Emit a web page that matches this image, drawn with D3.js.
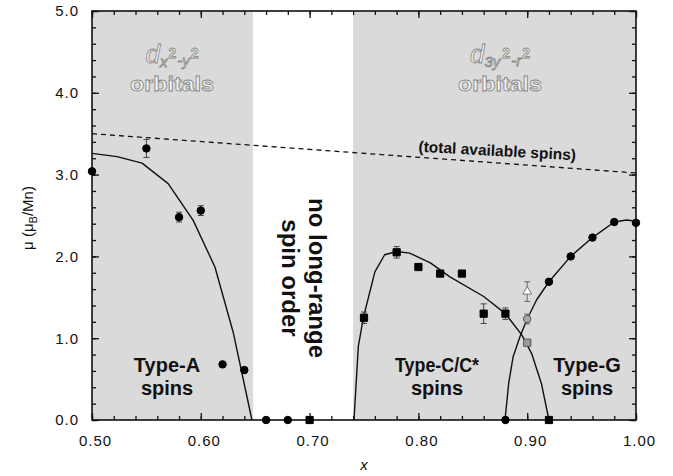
<!DOCTYPE html>
<html><head><meta charset="utf-8">
<script src="https://cdn.jsdelivr.net/npm/d3@7"></script>
<style>
html,body{margin:0;padding:0;background:#fff;}
svg{display:block;font-family:"Liberation Sans",Arial,Helvetica,sans-serif;}
</style></head><body>
<svg id="chart" width="673" height="476"></svg>
<script>
// ---- axes ----
const xTicks = [0.50, 0.60, 0.70, 0.80, 0.90, 1.00];
const yTicks = [0, 1, 2, 3, 4, 5];

// ---- composition ranges with long-range orbital/spin order ----
const orderedRanges = [[0.50, 0.648], [0.740, 1.00]];

// ---- total available spins (dashed) ----
const totalSpinX = [0.50, 1.00];
const totalSpinY = [3.50, 3.02];

// ---- Type-A antiferromagnet ----
const typeACurveX = [0.500, 0.523, 0.546, 0.570, 0.593, 0.613, 0.630, 0.647];
const typeACurveY = [3.26, 3.22, 3.14, 2.89, 2.44, 1.87, 1.06, 0.00];
const typeAX   = [0.50, 0.55, 0.58, 0.60, 0.62, 0.64, 0.66, 0.68];
const typeAY   = [3.04, 3.32, 2.48, 2.56, 0.68, 0.61, 0.00, 0.00];
const typeAErr = [0, 0.11, 0.06, 0.06, 0, 0, 0, 0];

// ---- Type-C/C* antiferromagnet ----
const typeCCurveX = [0.7408, 0.7448, 0.7494, 0.760, 0.769, 0.780, 0.792, 0.811, 0.829, 0.860, 0.880, 0.895, 0.904, 0.913, 0.920];
const typeCCurveY = [0.00, 0.90, 1.25, 1.81, 2.02, 2.06, 2.04, 1.92, 1.75, 1.51, 1.30, 1.04, 0.815, 0.45, 0.00];
const typeCX   = [0.70, 0.75, 0.78, 0.80, 0.82, 0.84, 0.86, 0.88, 0.92];
const typeCY   = [0.00, 1.25, 2.05, 1.87, 1.79, 1.79, 1.30, 1.30, 0.00];
const typeCErr = [0, 0.07, 0.07, 0, 0, 0, 0.12, 0.07, 0];

// ---- Type-G antiferromagnet ----
const typeGCurveX = [0.8796, 0.883, 0.887, 0.8934, 0.900, 0.9087, 0.920, 0.940, 0.960, 0.980, 0.9914, 1.000];
const typeGCurveY = [0.00, 0.45, 0.77, 1.02, 1.235, 1.47, 1.69, 2.00, 2.23, 2.42, 2.445, 2.43];
const typeGX = [0.88, 0.92, 0.94, 0.96, 0.98, 1.00];
const typeGY = [0.00, 1.69, 2.00, 2.23, 2.42, 2.41];

// ---- x = 0.90 sample (grey / open symbols) ----
const mixedX = [0.90, 0.90, 0.90];
const mixedY = [0.945, 1.235, 1.57];
const mixedErr = [0, 0.06, 0.12];

const svg = d3.select("#chart");
const plotL = 92, plotR = 636, plotT = 11, plotB = 420;
const x = d3.scaleLinear().domain([0.5, 1.0]).range([plotL, plotR]);
const y = d3.scaleLinear().domain([0, 5]).range([plotB, plotT]);

// shaded backgrounds
svg.append("g").selectAll("rect").data(orderedRanges).join("rect")
  .attr("x", d => x(d[0])).attr("width", d => x(d[1]) - x(d[0]))
  .attr("y", plotT).attr("height", plotB - plotT)
  .attr("fill", "#dadada");

// hollow orbital labels
const hollow = g => g.attr("fill", "#f2f2f2").attr("stroke", "#858585").attr("stroke-width", 0.8)
  .attr("font-weight", "bold");

function orbitalLabel(cx, parts) {
  const g = svg.append("g");
  const t = g.append("text").attr("x", cx).attr("y", 63).attr("text-anchor", "middle").call(hollow);
  parts.forEach(p => {
    t.append("tspan").text(p.t).attr("font-size", p.s).attr("font-style", p.i ? "italic" : "normal")
      .attr("font-weight", p.i ? "normal" : "bold")
      .attr("dy", p.dy || 0).attr("dx", p.dx || 0);
  });
  g.append("text").attr("x", cx).attr("y", 91).attr("text-anchor", "middle")
    .attr("font-size", 20).attr("textLength", 84).attr("lengthAdjust", "spacingAndGlyphs")
    .call(hollow).text("orbitals");
}
orbitalLabel(172, [
  {t: "d", s: 26, i: true},
  {t: "x", s: 15, i: true, dy: 4},
  {t: "2", s: 14, dy: -9, dx: 1},
  {t: "-y", s: 15, i: true, dy: 8, dx: 1},
  {t: "2", s: 14, dy: -8, dx: 1}
]);
orbitalLabel(500, [
  {t: "d", s: 26, i: true},
  {t: "3y", s: 15, i: true, dy: 4},
  {t: "2", s: 14, dy: -9, dx: 2},
  {t: "-r", s: 15, i: true, dy: 8, dx: 1},
  {t: "2", s: 14, dy: -8, dx: 1}
]);

// total available spins
const totalLine = d3.line().x(d => x(d[0])).y(d => y(d[1]));
svg.append("path").datum(d3.zip(totalSpinX, totalSpinY))
  .attr("d", totalLine).attr("fill", "none").attr("stroke", "#111")
  .attr("stroke-width", 1.3).attr("stroke-dasharray", "5,4");
const ang = Math.atan2(y(totalSpinY[1]) - y(totalSpinY[0]), x(totalSpinX[1]) - x(totalSpinX[0])) * 180 / Math.PI;
svg.append("text").attr("transform", `translate(497,156) rotate(${ang * 0.75})`)
  .attr("text-anchor", "middle").attr("font-size", 15.5).attr("font-weight", "bold")
  .attr("fill", "#111").text("(total available spins)");

// guide curves
const curve = d3.line().x(d => x(d[0])).y(d => y(d[1]));
[[typeACurveX, typeACurveY], [typeCCurveX, typeCCurveY], [typeGCurveX, typeGCurveY]].forEach(([xs, ys]) => {
  svg.append("path").datum(d3.zip(xs, ys)).attr("d", curve)
    .attr("fill", "none").attr("stroke", "#111").attr("stroke-width", 1.4).attr("stroke-linejoin", "round");
});

// axes (ticks pointing inward on all four sides)
const minorX = d3.range(0.50, 1.0001, 0.02);
const minorY = d3.range(0, 5.0001, 0.2);
const axG = svg.append("g").attr("class", "axes");
function styleAxis(g) {
  g.select(".domain").remove();
  g.selectAll(".tick line").attr("stroke", "#111").attr("stroke-width", 1.3);
  g.selectAll("text").attr("fill", "#111").attr("font-size", 15).attr("letter-spacing", "1px")
    .attr("font-family", "'Liberation Sans', Arial, sans-serif");
}
axG.append("g").attr("transform", `translate(0,${plotB})`)
  .call(d3.axisBottom(x).tickValues(minorX).tickFormat("").tickSize(-4)).call(styleAxis);
axG.append("g").attr("transform", `translate(0,${plotB})`)
  .call(d3.axisBottom(x).tickValues(xTicks).tickFormat(d3.format(".2f")).tickSize(-7).tickPadding(15))
  .call(styleAxis).selectAll("text").attr("dx", 3);
axG.append("g").attr("transform", `translate(0,${plotT})`)
  .call(d3.axisTop(x).tickValues(minorX).tickFormat("").tickSize(-4)).call(styleAxis);
axG.append("g").attr("transform", `translate(0,${plotT})`)
  .call(d3.axisTop(x).tickValues(xTicks).tickFormat("").tickSize(-7)).call(styleAxis);
axG.append("g").attr("transform", `translate(${plotL},0)`)
  .call(d3.axisLeft(y).tickValues(minorY).tickFormat("").tickSize(-4)).call(styleAxis);
axG.append("g").attr("transform", `translate(${plotL},0)`)
  .call(d3.axisLeft(y).tickValues(yTicks).tickFormat(d3.format(".1f")).tickSize(-7).tickPadding(13))
  .call(styleAxis);
axG.append("g").attr("transform", `translate(${plotR},0)`)
  .call(d3.axisRight(y).tickValues(minorY).tickFormat("").tickSize(-4)).call(styleAxis);
axG.append("g").attr("transform", `translate(${plotR},0)`)
  .call(d3.axisRight(y).tickValues(yTicks).tickFormat("").tickSize(-7)).call(styleAxis);
svg.append("rect").attr("x", plotL).attr("y", plotT).attr("width", plotR - plotL).attr("height", plotB - plotT)
  .attr("fill", "none").attr("stroke", "#111").attr("stroke-width", 1.6);

// error bars
function errorBars(xs, ys, es, color) {
  const rows = d3.zip(xs, ys, es).filter(d => d[2] > 0);
  const g = svg.append("g").attr("stroke", color).attr("stroke-width", 1);
  rows.forEach(([vx, vy, e]) => {
    const px = x(vx);
    g.append("line").attr("x1", px).attr("x2", px).attr("y1", y(vy - e)).attr("y2", y(vy + e));
    g.append("line").attr("x1", px - 3).attr("x2", px + 3).attr("y1", y(vy - e)).attr("y2", y(vy - e));
    g.append("line").attr("x1", px - 3).attr("x2", px + 3).attr("y1", y(vy + e)).attr("y2", y(vy + e));
  });
}
errorBars(typeAX, typeAY, typeAErr, "#444");
errorBars(typeCX, typeCY, typeCErr, "#444");
errorBars(mixedX, mixedY, mixedErr, "#666");

// markers
const sym = {
  circle: d3.symbol().type(d3.symbolCircle).size(44),
  square: d3.symbol().type(d3.symbolSquare).size(52),
  triangle: d3.symbol().type(d3.symbolTriangle).size(34)
};
function markers(xs, ys, shape, fill, stroke) {
  svg.append("g").selectAll("path").data(d3.zip(xs, ys)).join("path")
    .attr("transform", d => `translate(${x(d[0])},${y(d[1])})`)
    .attr("d", sym[shape]()).attr("fill", fill).attr("stroke", stroke).attr("stroke-width", 1);
}
markers(typeAX, typeAY, "circle", "#000", "#000");
markers(typeCX, typeCY, "square", "#000", "#000");
markers(typeGX, typeGY, "circle", "#000", "#000");
markers([mixedX[0]], [mixedY[0]], "square", "#9a9a9a", "#555");
markers([mixedX[1]], [mixedY[1]], "circle", "#a8a8a8", "#555");
markers([mixedX[2]], [mixedY[2]], "triangle", "#fff", "#777");

// region labels
function regionLabel(cx, lines, fit) {
  lines.forEach((s, i) => {
    const t = svg.append("text").attr("x", cx).attr("y", 372 + i * 23).attr("text-anchor", "middle")
      .attr("font-size", 20).attr("font-weight", "bold").attr("fill", "#111").text(s);
    if (fit && fit[i]) t.attr("textLength", fit[i]).attr("lengthAdjust", "spacingAndGlyphs");
  });
}
regionLabel(167, ["Type-A", "spins"]);
regionLabel(437, ["Type-C/C*", "spins"], [84, null]);
regionLabel(587, ["Type-G", "spins"]);

// disordered region label (vertical)
const nlr = svg.append("text").attr("transform", "translate(296,278) rotate(90)")
  .attr("text-anchor", "middle").attr("font-size", 24).attr("font-weight", "bold").attr("fill", "#111");
nlr.append("tspan").attr("x", 0).attr("y", -13).text("no long-range");
nlr.append("tspan").attr("x", 0).attr("y", 14).text("spin order");

// axis titles
svg.append("text").attr("x", 364).attr("y", 470).attr("text-anchor", "middle")
  .attr("font-size", 15).attr("font-style", "italic").attr("fill", "#111").text("x");
const yl = svg.append("text").attr("transform", "translate(33,218) rotate(-90)")
  .attr("text-anchor", "middle").attr("font-size", 15).attr("fill", "#111");
yl.append("tspan").text("μ (μ");
yl.append("tspan").attr("font-size", 11).attr("dy", 4).text("B");
yl.append("tspan").attr("dy", -4).text("/Mn)");
</script>
</body></html>
